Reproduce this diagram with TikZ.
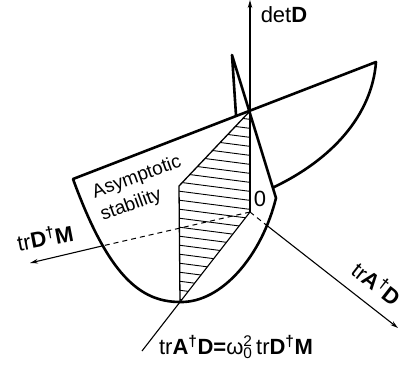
\documentclass[tikz,border=0pt]{standalone}
\usepackage{fontspec}
\setmainfont{Liberation Sans}
\usetikzlibrary{arrows.meta}
\newcommand*{\dagsup}{\textsuperscript{\textbf{\textdagger}}}

\begin{document}
\begin{tikzpicture}[x=1pt,y=-1pt, every node/.style={font=\fontsize{22}{26}\selectfont, inner sep=0pt},
    edge/.style={line width=2.6pt, line join=round},
    axis/.style={line width=1.1pt},
    hidden/.style={line width=1pt, dash pattern=on 5pt off 4pt},
    tip/.style={-{Stealth[length=8pt,width=4.5pt]}}]
    \useasboundingbox (0,0) rectangle (405,369);
    \coordinate (O) at (250,212);
    \coordinate (dtop) at (250,0);
    \coordinate (mexit) at (102,246);
    \coordinate (mend) at (30,263);
    \coordinate (aexit) at (265,224);
    \coordinate (aend) at (398,328);
    \coordinate (bot) at (180,302);
    \coordinate (lend) at (142,351);
    \coordinate (ptop) at (250,111);
    \coordinate (pleft) at (179,186);
    % hatched part
    \begin{scope}
        \clip (ptop) -- (pleft) -- (bot) -- (O) -- cycle;
        \foreach \y in {100,109,...,310}
            \draw[line width=0.9pt] (170,\y) -- (255,\y+11);
    \end{scope}
    \draw[line width=1.3pt] (ptop) -- (pleft) -- (bot);
    % axes
    \draw[axis,tip] (O) -- (dtop);
    \draw[hidden] (O) -- (mexit);
    \draw[axis,tip] (mexit) -- (mend);
    \draw[hidden] (O) -- (aexit);
    \draw[axis,tip] (aexit) -- (aend);
    \draw[axis] (O) -- (bot) -- (lend);
    % surface
    \draw[edge] (236,115) -- (232,55) -- (276,198)
        .. controls (262,255) and (222,303) .. (bot)
        .. controls (140,302) and (108,275) .. (73,179)
        -- (376,62) .. controls (372,115) and (332,160) .. (272,188);
    \node (detlbl) at (284,15) {det\textbf{D}};
    \node (zero) at (260,199) {0};
    \node[rotate=11] (mlbl) at (45,237) {tr\textbf{D}\dagsup\textbf{M}};
    \node[rotate=-38] (albl) at (377,283) {tr\textbf{A}\dagsup\textbf{D}};
    \node (eqlbl) at (236,347) {tr\textbf{A}\dagsup\textbf{D=}ω\rlap{\textsuperscript{2}}\textsubscript{0}\,tr\textbf{D}\dagsup\textbf{M}};
    \node[align=left, rotate=20, font=\fontsize{19}{24}\selectfont] (stablbl) at (141,189) {Asymptotic\\stability};
\end{tikzpicture}
\end{document}
